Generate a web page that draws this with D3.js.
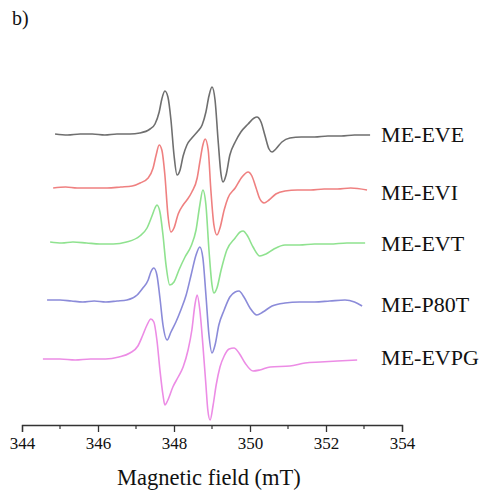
<!DOCTYPE html>
<html>
<head>
<meta charset="utf-8">
<script src="https://cdn.jsdelivr.net/npm/d3@7"></script>
<style>
  html, body { margin: 0; padding: 0; background: #fff; }
  svg { display: block; }
  text { font-family: "Liberation Serif", "DejaVu Serif", serif; fill: #111; }
</style>
</head>
<body>
<svg id="chart" width="492" height="492"></svg>
<script>
// ---------------- data ----------------
const seriesNames = ["ME-EVE", "ME-EVI", "ME-EVT", "ME-P80T", "ME-EVPG"];
const xTicks = [344, 346, 348, 350, 352, 354];
const xMinorTicks = [345, 347, 349, 351, 353];
const xLabel = "Magnetic field (mT)";
const panelLabel = "b)";

// vertical offsets of each spectrum (a.u.)
const offsets = [291, 237, 182, 125, 65];

// ME-EVE
const fieldEVE = [344.87, 345.20, 345.53, 345.85, 346.18, 346.50, 346.84, 347.10, 347.37, 347.50, 347.61, 347.68, 347.76, 347.84, 347.92, 348.00, 348.08, 348.16, 348.24, 348.34, 348.47, 348.61, 348.74, 348.84, 348.92, 349.00, 349.08, 349.16, 349.24, 349.29, 349.37, 349.47, 349.61, 349.76, 349.95, 350.11, 350.18, 350.29, 350.39, 350.50, 350.58, 350.68, 350.84, 351.05, 351.35, 351.70, 352.05, 352.40, 352.75, 353.16];
const intEVE   = [0, -1, 0, 0, -1, 0, 0, 1, 5, 10, 22, 35, 43, 37, 14, -21, -41, -36, -22, -11, -4, 2, 9, 22, 38, 47, 34, -6, -41, -48, -41, -21, -8, 2, 10, 16, 17, 12, -1, -15, -18, -15, -8, -4, -3, -3, -2, -2, -1, -1];

// ME-EVI
const fieldEVI = [344.82, 345.15, 345.45, 345.80, 346.24, 346.60, 346.90, 347.11, 347.32, 347.45, 347.53, 347.61, 347.68, 347.76, 347.84, 347.92, 348.00, 348.11, 348.24, 348.34, 348.47, 348.61, 348.68, 348.76, 348.82, 348.90, 348.97, 349.05, 349.13, 349.21, 349.32, 349.42, 349.61, 349.79, 349.95, 350.05, 350.16, 350.26, 350.37, 350.50, 350.68, 350.92, 351.25, 351.60, 351.95, 352.30, 352.65, 353.08];
const intEVI   = [0, 1, 0, 0, 0, 1, 2, 5, 10, 20, 33, 43, 38, 13, -27, -44, -40, -26, -17, -12, -4, 10, 26, 43, 49, 38, -2, -37, -47, -40, -22, -10, 0, 11, 16, 12, 0, -11, -15, -12, -6, -3, -2, -2, -1, -1, 0, -2];

// ME-EVT
const fieldEVT = [344.74, 345.05, 345.34, 345.70, 346.05, 346.40, 346.75, 347.10, 347.29, 347.42, 347.50, 347.55, 347.63, 347.71, 347.79, 347.89, 348.00, 348.13, 348.29, 348.45, 348.58, 348.68, 348.76, 348.84, 348.92, 349.00, 349.05, 349.13, 349.24, 349.39, 349.61, 349.74, 349.82, 349.92, 350.08, 350.26, 350.42, 350.63, 350.92, 351.30, 351.70, 352.10, 352.55, 353.03];
const intEVT   = [1, 0, 1, 0, -1, -1, 1, 7, 15, 27, 35, 38, 31, 8, -22, -42, -39, -27, -14, -3, 13, 38, 53, 38, -7, -42, -50, -45, -27, -7, 5, 11, 12, 8, -4, -13, -11, -6, -2, -2, -1, -1, 0, 0];

// ME-P80T
const fieldP80T = [344.66, 345.00, 345.30, 345.60, 345.90, 346.20, 346.50, 346.76, 347.03, 347.18, 347.32, 347.39, 347.47, 347.55, 347.63, 347.71, 347.82, 347.92, 348.05, 348.18, 348.32, 348.45, 348.58, 348.68, 348.76, 348.84, 348.92, 349.00, 349.08, 349.18, 349.32, 349.47, 349.61, 349.71, 349.84, 350.00, 350.18, 350.34, 350.58, 350.92, 351.30, 351.70, 352.10, 352.50, 352.75, 352.95];
const intP80T   = [0, 0, -1, -2, -1, -2, -1, 0, 5, 12, 20, 28, 32, 25, 2, -25, -40, -32, -22, -10, 5, 25, 45, 53, 42, 5, -35, -53, -45, -25, -10, 3, 8, 9, 3, -8, -15, -12, -6, -3, -2, -2, -1, 0, -2, -6];

// ME-EVPG
const fieldEVPG = [344.55, 345.00, 345.40, 345.80, 346.20, 346.55, 346.84, 347.05, 347.18, 347.29, 347.39, 347.47, 347.55, 347.63, 347.71, 347.76, 347.84, 347.97, 348.11, 348.24, 348.37, 348.47, 348.55, 348.61, 348.68, 348.76, 348.84, 348.89, 348.95, 349.03, 349.11, 349.21, 349.32, 349.45, 349.58, 349.71, 349.87, 350.08, 350.26, 350.53, 351.05, 351.45, 351.85, 352.30, 352.82];
const intEVPG   = [1, 1, 0, 1, 1, 3, 7, 14, 25, 35, 41, 38, 20, -10, -35, -45, -40, -27, -17, -7, 10, 30, 55, 65, 50, 15, -25, -50, -60, -45, -25, -7, 4, 11, 12, 7, -3, -11, -10, -7, -6, -3, -2, -1, 0];

const seriesFields = [fieldEVE, fieldEVI, fieldEVT, fieldP80T, fieldEVPG];
const seriesInts = [intEVE, intEVI, intEVT, intP80T, intEVPG];
const colors = ["#6f6f6f", "#ef8080", "#8fe28f", "#8b8bd9", "#ec8ce5"];

// ---------------- drawing ----------------
const svg = d3.select("#chart");
const x = d3.scaleLinear().domain([344, 354]).range([22, 402]);
const y = d3.scaleLinear().domain([0, 100]).range([425, 325]);

const line = d3.line()
  .x(d => x(d[0]))
  .y(d => y(d[1]))
  .curve(d3.curveMonotoneX);

seriesNames.forEach((name, i) => {
  const pts = seriesFields[i].map((f, j) => [f, seriesInts[i][j] + offsets[i]]);
  svg.append("path")
    .attr("d", line(pts))
    .attr("fill", "none")
    .attr("stroke", colors[i])
    .attr("stroke-width", 1.6)
    .attr("stroke-linejoin", "round");
});

// series labels
const labelNudge = [8, 12, 8, 12, 5];
seriesNames.forEach((name, i) => {
  svg.append("text")
    .attr("x", x(353.45))
    .attr("y", y(offsets[i]) + labelNudge[i])
    .attr("font-size", 22)
    .text(name);
});

// x axis
const axisY = y(0);
const axisG = svg.append("g").attr("transform", `translate(0,${axisY})`);
axisG.call(d3.axisBottom(x).tickValues(xTicks).tickSize(7).tickFormat(d3.format("d")));
axisG.select(".domain").attr("stroke", "#333").attr("stroke-width", 1.3);
axisG.selectAll(".tick line").attr("stroke", "#333").attr("stroke-width", 1.3);
axisG.selectAll(".tick text")
  .attr("font-family", "Liberation Serif, serif")
  .attr("font-size", 17)
  .attr("fill", "#111")
  .attr("dy", "0.9em")
  .attr("y", 9);
axisG.selectAll(".minor")
  .data(xMinorTicks).enter()
  .append("line")
  .attr("x1", d => x(d)).attr("x2", d => x(d))
  .attr("y1", 0).attr("y2", 4)
  .attr("stroke", "#333").attr("stroke-width", 1.2);

svg.append("text")
  .attr("x", x(348.92))
  .attr("y", 485)
  .attr("text-anchor", "middle")
  .attr("font-size", 22.5)
  .text(xLabel);

svg.append("text")
  .attr("x", 12)
  .attr("y", 25)
  .attr("font-size", 20)
  .text(panelLabel);
</script>
</body>
</html>
